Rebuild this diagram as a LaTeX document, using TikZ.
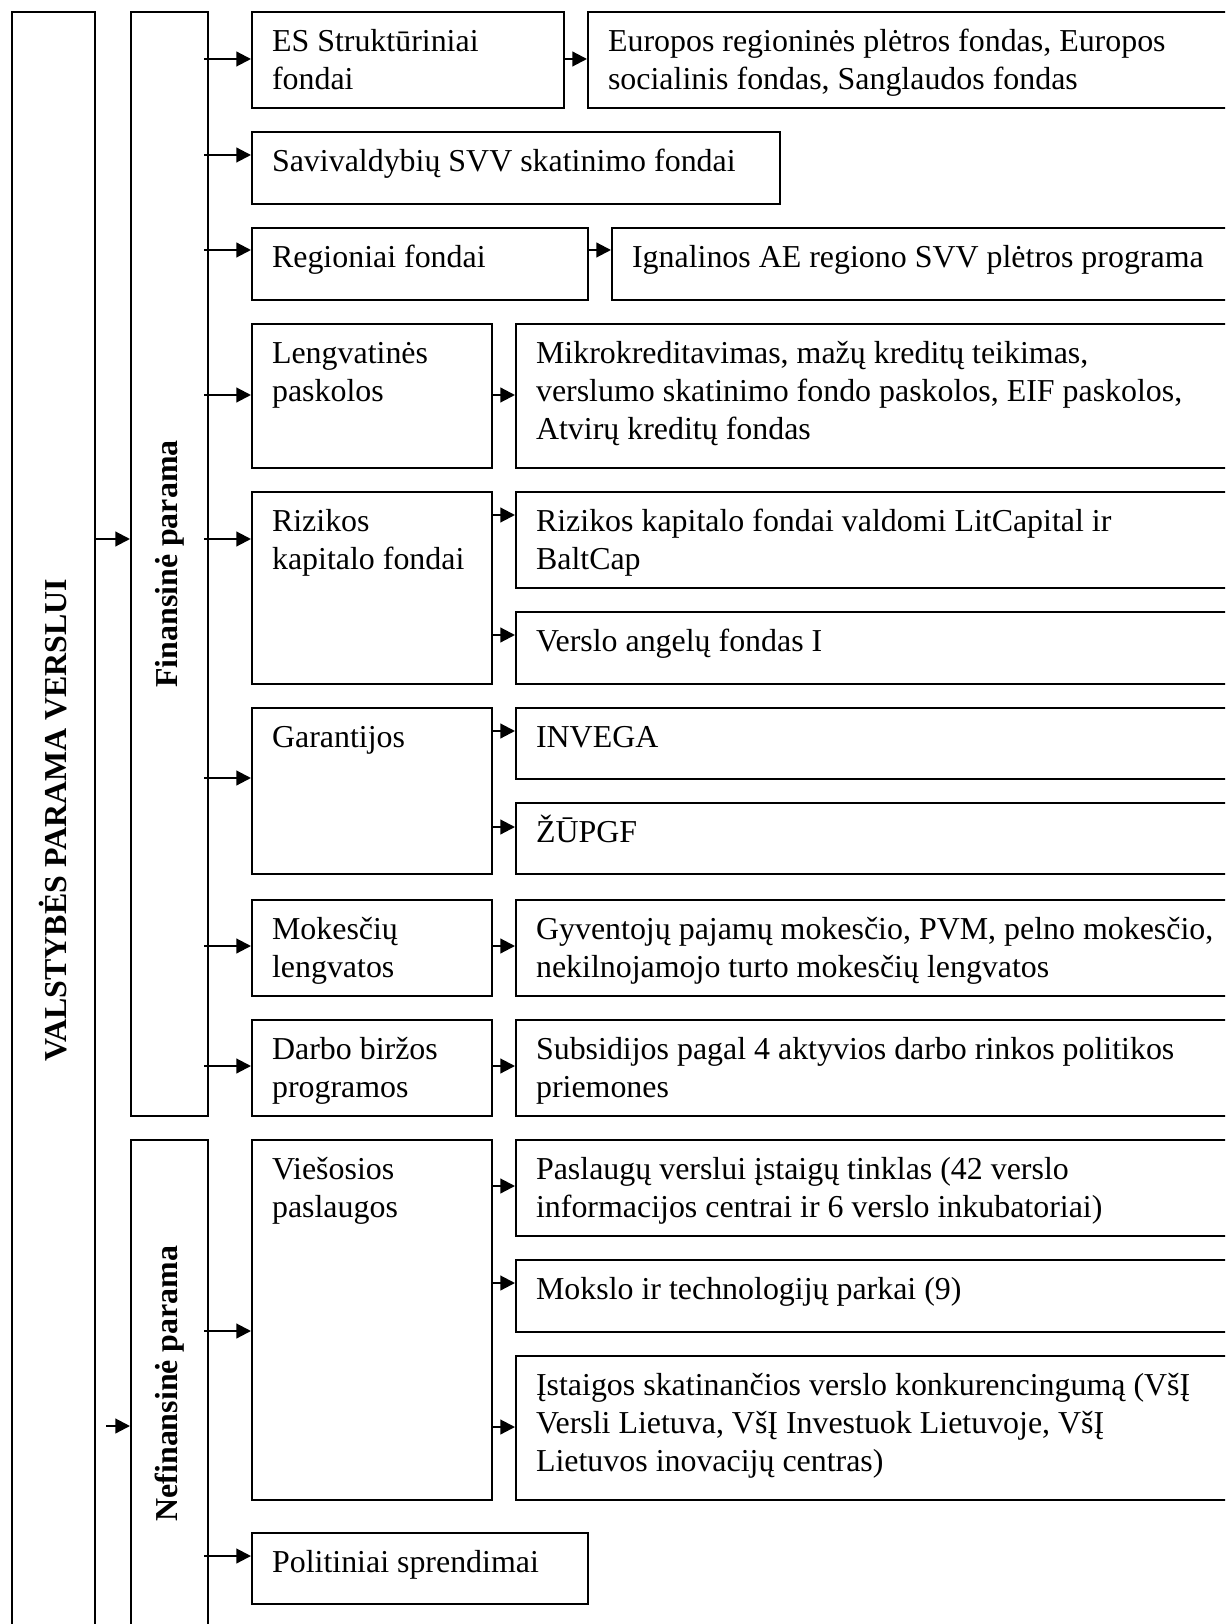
\documentclass[tikz,border=0pt]{standalone}
\usepackage{fontspec}
\setmainfont{Liberation Serif}
\usetikzlibrary{arrows.meta}
\def\px{0.376pt}
\newcommand\tightspace{\spaceskip=3pt plus 1pt minus 1pt\relax}
\tikzset{
  box/.style 2 args={draw, anchor=north west, inner xsep=20*\px, inner ysep=0pt,
    text width=(#1-40)*\px, text height=39*\px, text depth=(#2-39)*\px,
    execute at begin node=\tightspace},
  col/.style 2 args={draw, anchor=north west, inner sep=0pt, minimum width=#1*\px, minimum height=#2*\px},
  vtext/.style={rotate=90, font=\fontsize{12pt}{14.4pt}\selectfont\bfseries},
}
\begin{document}
\begin{tikzpicture}[x=\px, y=-\px, line width=0.8pt, font=\fontsize{12pt}{14.4pt}\selectfont,
    >={Triangle[length=5.5pt,width=5.5pt]}]
  \useasboundingbox (0,0) rectangle (1225,1624);
  \clip (0,0) rectangle (1225,1624);
  % columns
  \node[col={83}{1616}] (outer) at (11,11) {};
  \node[vtext] (outertxt) at (outer.center) {VALSTYBĖS PARAMA VERSLUI};
  \node[col={77}{1104}] (fin) at (130,11) {};
  \node[vtext] (fintxt) at (fin.center) {Finansinė parama};
  \node[col={77}{487}] (nef) at (130,1139) {};
  \node[vtext] (neftxt) at (nef.center) {Nefinansinė parama};
  % finansine parama
  \node[box={312}{96}] (es) at (251,11) {ES Struktūriniai\\fondai};
  \node[box={800}{96}] (eur) at (587,11) {Europos regioninės plėtros fondas, Europos\\socialinis fondas, Sanglaudos fondas};
  \node[box={528}{72}] (sav) at (251,131) {Savivaldybių SVV skatinimo fondai};
  \node[box={336}{72}] (reg) at (251,227) {Regioniai fondai};
  \node[box={800}{72}] (ign) at (611,227) {Ignalinos AE regiono SVV plėtros programa};
  \node[box={240}{144}] (leng) at (251,323) {Lengvatinės\\paskolos};
  \node[box={800}{144}] (mikro) at (515,323) {Mikrokreditavimas, mažų kreditų teikimas,\\verslumo skatinimo fondo paskolos, EIF paskolos,\\Atvirų kreditų fondas};
  \node[box={240}{192}] (riz) at (251,491) {Rizikos\\kapitalo~fondai};
  \node[box={800}{96}] (rkf) at (515,491) {Rizikos kapitalo fondai valdomi LitCapital ir\\BaltCap};
  \node[box={800}{72}] (va) at (515,611) {Verslo angelų fondas I};
  \node[box={240}{166}] (gar) at (251,707) {Garantijos};
  \node[box={800}{71}] (inv) at (515,707) {INVEGA};
  \node[box={800}{71}] (zup) at (515,802) {ŽŪPGF};
  \node[box={240}{96}] (mok) at (251,899) {Mokesčių\\lengvatos};
  \node[box={800}{96}] (gyv) at (515,899) {Gyventojų pajamų mokesčio, PVM, pelno mokesčio,\\nekilnojamojo turto mokesčių lengvatos};
  \node[box={240}{96}] (darb) at (251,1019) {Darbo~biržos\\programos};
  \node[box={800}{96}] (sub) at (515,1019) {Subsidijos pagal 4 aktyvios darbo rinkos politikos\\priemones};
  % nefinansine parama
  \node[box={240}{360}] (vies) at (251,1139) {Viešosios\\paslaugos};
  \node[box={800}{96}] (pasl) at (515,1139) {Paslaugų verslui įstaigų tinklas (42 verslo\\informacijos centrai ir 6 verslo inkubatoriai)};
  \node[box={800}{72}] (moks) at (515,1259) {Mokslo ir technologijų parkai (9)};
  \node[box={800}{144}] (ist) at (515,1355) {Įstaigos skatinančios verslo konkurencingumą (VšĮ\\Versli Lietuva, VšĮ Investuok Lietuvoje, VšĮ\\Lietuvos inovacijų centras)};
  \node[box={336}{71}] (pol) at (251,1532) {Politiniai sprendimai};
  % arrows
  \coordinate (nefin) at (106,1426);
  \draw[->] (outer.east |- 0,539) -- (fin.west |- 0,539);
  \draw[->] (nefin) -- (nef.west |- nefin);
  \foreach \n/\y in {es/59, sav/155, reg/250, leng/395, riz/539, gar/778, mok/946, darb/1066}
    \draw[->, shorten <=-1.8pt] (fin.east |- 0,\y) -- (\n.west |- 0,\y);
  \foreach \n/\y in {vies/1331, pol/1556}
    \draw[->, shorten <=-1.8pt] (nef.east |- 0,\y) -- (\n.west |- 0,\y);
  \foreach \a/\b/\y in {es/eur/59, reg/ign/250, leng/mikro/395, riz/rkf/515, riz/va/635, gar/inv/731,
      gar/zup/827, mok/gyv/946, darb/sub/1066, vies/pasl/1186, vies/moks/1283, vies/ist/1427}
    \draw[->] (\a.east |- 0,\y) -- (\b.west |- 0,\y);
\end{tikzpicture}
\end{document}
